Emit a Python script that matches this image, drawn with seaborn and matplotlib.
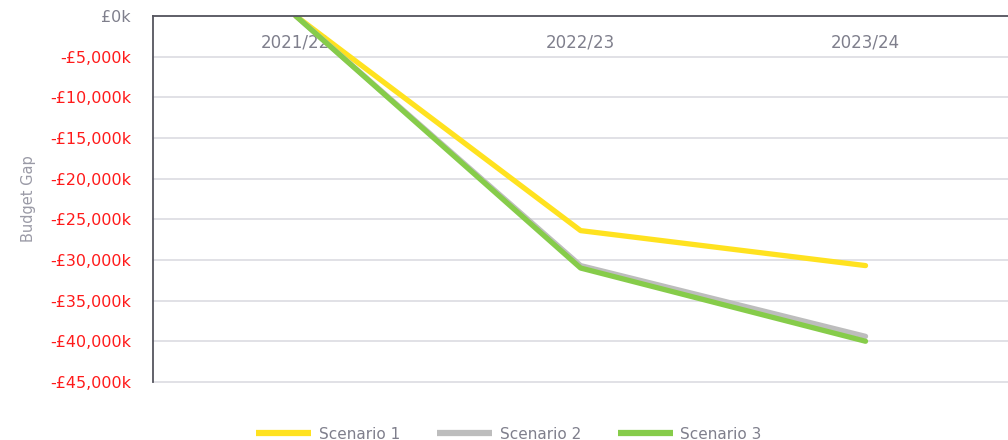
import pandas as pd
import matplotlib.pyplot as plt
import seaborn as sns
from matplotlib.ticker import FuncFormatter

# data (values in £k)
years = ['2021/22', '2022/23', '2023/24']
scenario_1 = [0, -26400, -30700]
scenario_2 = [0, -30700, -39400]
scenario_3 = [0, -31000, -40000]
scenario_names = ['Scenario 1', 'Scenario 2', 'Scenario 3']
scenario_colors = ['#FFE21F', '#BDBDBD', '#86CC4A']
y_ticks = [0, -5000, -10000, -15000, -20000, -25000, -30000, -35000, -40000, -45000]

df = pd.DataFrame({
    'Year': years * 3,
    'Gap': scenario_1 + scenario_2 + scenario_3,
    'Scenario': [n for n in scenario_names for _ in years],
})

sns.set_style('white')
plt.rcParams['font.family'] = ['DejaVu Sans']

text_grey = '#7F7F8C'
fig = plt.figure(figsize=(10.08, 4.4), dpi=100)
ax = fig.add_axes([0.152, 0.132, 0.848, 0.832])

sns.lineplot(data=df, x='Year', y='Gap', hue='Scenario',
             palette=dict(zip(scenario_names, scenario_colors)),
             linewidth=3.8, sort=False, ax=ax, legend=False)

ax.set_xlim(-0.5, 2.5)
ax.set_ylim(-45000, 0)
ax.set_yticks(y_ticks)
ax.yaxis.set_major_formatter(FuncFormatter(
    lambda v, p: '£0k' if v == 0 else f'-£{abs(v):,.0f}k'))

# gridlines (clip off so the bottom one is drawn in full)
ax.grid(axis='y', color='#DCDCE2', linewidth=1.2)
for g in ax.get_ygridlines():
    g.set_clip_on(False)
ax.set_axisbelow(True)

# category axis sits at zero (top of plot), labels below it
for s in ['top', 'right']:
    ax.spines[s].set_visible(False)
ax.spines['bottom'].set_position(('data', 0))
ax.spines['bottom'].set_color('#55555E')
ax.spines['bottom'].set_linewidth(1.3)
ax.spines['left'].set_color('#55555E')
ax.spines['left'].set_linewidth(1.3)
ax.tick_params(axis='x', length=0, pad=13, labelsize=12, labelcolor=text_grey)
ax.tick_params(axis='y', length=0, pad=16, labelsize=11.5)
for lbl in ax.get_yticklabels():
    lbl.set_color(text_grey if lbl.get_text() == '£0k' else '#FF1A1A')

ax.set_xlabel('')
ax.set_ylabel('Budget Gap', color='#9A9AA6', fontsize=10.5, labelpad=10)

# legend at bottom
handles = [plt.Line2D([], [], color=c, linewidth=4.5, solid_capstyle='butt')
           for c in scenario_colors]
fig.legend(handles, scenario_names, loc='lower center', ncol=3, frameon=False,
           bbox_to_anchor=(0.505, -0.035), fontsize=11, handlelength=3.6,
           handletextpad=0.5, columnspacing=2.4, labelcolor=text_grey)

plt.savefig('out.png', dpi=100)
